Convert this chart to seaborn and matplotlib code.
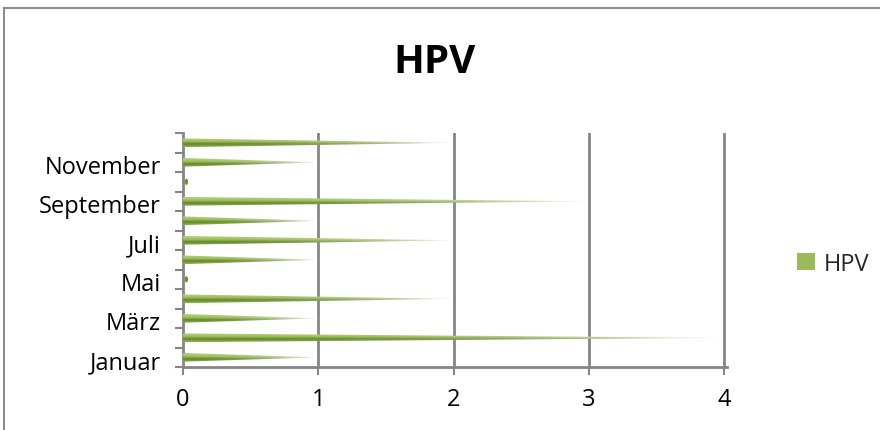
import numpy as np
import pandas as pd
import matplotlib
matplotlib.use("Agg")
import matplotlib.pyplot as plt
import matplotlib.transforms as mtransforms
import seaborn as sns
from matplotlib.patches import Polygon, Rectangle, Patch, Ellipse
from matplotlib.colors import to_rgb

months = ["Januar", "Februar", "März", "April", "Mai", "Juni", "Juli",
          "August", "September", "Oktober", "November", "Dezember"]
values = [1, 4, 1, 2, 0, 1, 2, 1, 3, 0, 1, 2]
series_name = "HPV"
x_ticks = [0, 1, 2, 3, 4]

df = pd.DataFrame({"Monat": months, series_name: values})

sns.set_theme(style="white")
plt.rcParams["font.family"] = ["Open Sans", "DejaVu Sans"]

fig = plt.figure(figsize=(8.8, 4.31), dpi=100)
ax = fig.add_axes([0.208, 0.146, 0.618, 0.543])

green = "#9BBB59"
sns.barplot(data=df, y="Monat", x=series_name, orient="h", width=0.45,
            color=green, ax=ax, order=months)
ax.invert_yaxis()
ax.set_xlim(0, 4.02)
ax.set_ylim(-0.5, 11.5)

# gradient image for cone look
top_c = np.array(to_rgb("#B7D47C"))
mid_c = np.array(to_rgb("#9BBB59"))
dark_c = np.array(to_rgb("#628429"))
bot_c = np.array(to_rgb("#92B64E"))
nv, nh = 40, 300
vprof = np.zeros((nv, 3))
for i in range(nv):
    s = i / (nv - 1)
    if s > 0.6:
        t = (s - 0.6) / 0.4
        vprof[i] = mid_c * (1 - t) + top_c * t
    elif s > 0.35:
        t = (s - 0.35) / 0.25
        vprof[i] = dark_c * (1 - t) + mid_c * t
    else:
        t = s / 0.35
        vprof[i] = bot_c * (1 - t) + dark_c * t
hx = np.linspace(0, 1, nh)
fade = (hx ** 2.2)[None, :, None] * 0.85
img = vprof[:, None, :] * (1 - fade) + np.ones(3)[None, None, :] * fade

for p in list(ax.patches):
    x0, y0 = p.get_x(), p.get_y()
    w, h = p.get_width(), p.get_height()
    p.set_visible(False)
    if w <= 0:
        e = Ellipse((x0 + 0.025, y0 + h / 2), 0.025, h * 0.7,
                    facecolor="#6E8F32", edgecolor="none", zorder=3)
        ax.add_patch(e)
        continue
    tri = Polygon([[x0, y0], [x0, y0 + h], [x0 + w, y0 + h / 2]],
                  closed=True, facecolor="none", edgecolor="none")
    ax.add_patch(tri)
    im = ax.imshow(img, extent=(x0, x0 + w, y0 + h, y0), aspect="auto",
                   origin="upper", zorder=3, interpolation="bilinear")
    im.set_clip_path(tri)

ax.set_xlim(0, 4.02)
ax.set_ylim(-0.5, 11.5)

gray = "#868686"
for xv in x_ticks[1:]:
    ax.axvline(xv, color=gray, lw=2, zorder=1)
for s in ["top", "right"]:
    ax.spines[s].set_visible(False)
for s in ["left", "bottom"]:
    ax.spines[s].set_color(gray)
    ax.spines[s].set_linewidth(2)

fs = 17
ax.set_xticks(x_ticks)
ax.set_xticklabels([str(v) for v in x_ticks], fontsize=fs, color="black")
ax.tick_params(axis="x", length=6, width=1.5, color=gray, pad=8, direction="out", bottom=True)

major = list(range(0, 12, 2))
ax.set_yticks(major)
ax.set_yticklabels([months[i] for i in major], fontsize=fs, color="black")
ax.set_yticks(np.arange(-0.5, 12, 1), minor=True)
ax.tick_params(axis="y", which="major", length=0, pad=16, left=False)
ax.tick_params(axis="y", which="minor", length=6, width=1.5, color=gray, left=True)
offset = mtransforms.ScaledTranslation(0, -2 / 100, fig.dpi_scale_trans)
for lab in ax.get_yticklabels():
    lab.set_transform(lab.get_transform() + offset)
ax.set_xlabel("")
ax.set_ylabel("")
ax.grid(False)

fig.text(0.494, 0.855, "HPV", ha="center", va="center", fontsize=29,
         fontweight="bold", color="black")

fig.legend(handles=[Patch(facecolor=green, edgecolor="none", label=series_name)],
           loc="center left", bbox_to_anchor=(0.906, 0.385), frameon=False,
           fontsize=fs, handlelength=0.75, handleheight=0.75, handletextpad=0.35,
           borderpad=0, borderaxespad=0)

fig.patches.append(Rectangle((4 / 880, -0.5), 2, 1.5 - 9 / 431, transform=fig.transFigure,
                             fill=False, edgecolor="#8C8C8C", lw=1.5))

fig.savefig("out.png", dpi=100)
